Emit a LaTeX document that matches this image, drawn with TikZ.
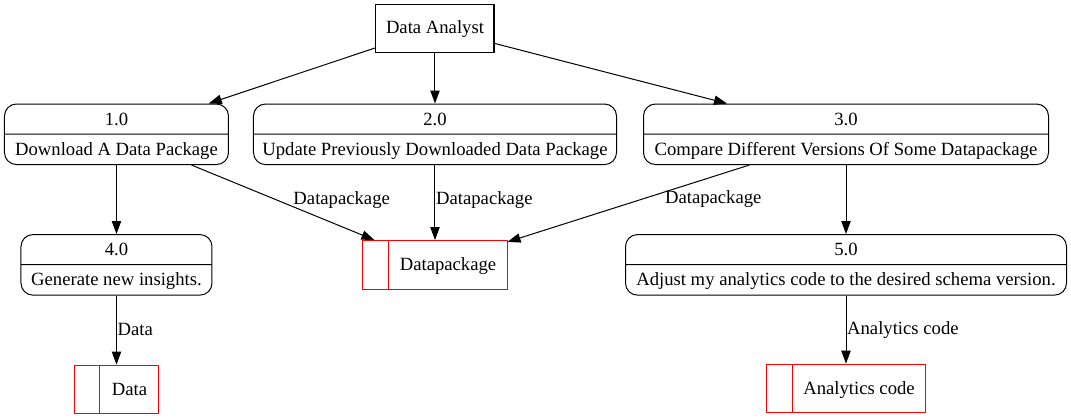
\documentclass[tikz,border=0pt]{standalone}
\usepackage{fontspec}
\setmainfont{Liberation Serif}
\usepackage{tikz}
\usetikzlibrary{shapes,arrows.meta,positioning,calc}
\newcommand{\recstrut}{\rule[-2.6pt]{0pt}{14.25pt}}
\newcommand{\proctext}[3]{\recstrut\makebox[#1]{#2}\nodepart{two}\recstrut\makebox[#1]{#3}}
\tikzset{
	procbox/.style={rectangle split, rectangle split parts=2, draw=black, line width=0.75pt,
		rounded corners=9pt, inner xsep=0pt, inner ysep=3.75pt},
	actorbox/.style={rectangle, draw=black, line width=0.75pt, minimum width=88.5pt,
		minimum height=36pt, inner sep=0pt},
	storebox/.style={rectangle, draw=red, line width=0.75pt, minimum height=36.5pt, inner sep=0pt},
	storeline/.style={draw=red, line width=0.75pt},
	flowarr/.style={-{Triangle[length=9.75pt, width=7pt]}, line width=0.75pt},
	flowlbl/.style={anchor=west, inner sep=0pt}
}

\begin{document}
\fontsize{14pt}{17pt}\selectfont
\begin{tikzpicture}[node distance=0.6cm]
			\useasboundingbox (-326.25pt,21pt) rectangle (477pt,-293.25pt);
			\node[actorbox] (analyst) {\recstrut Data Analyst};
			\node[procbox, below=38.25pt of analyst] (p2) {\proctext{272.25pt}{2.0}{Update Previously Downloaded Data Package}};
			\node[procbox, left=18pt of p2] (p1) {\proctext{168pt}{1.0}{Download A Data Package}};
			\node[procbox, right=19.5pt of p2] (p3) {\proctext{303.75pt}{3.0}{Compare Different Versions Of Some Datapackage}};
			\node[procbox, below=51.75pt of p1] (p4) {\proctext{143.25pt}{4.0}{Generate new insights.}};
			\node[procbox, below=51.75pt of p3] (p5) {\proctext{330.75pt}{5.0}{Adjust my analytics code to the desired schema version.}};
			\node[storebox, below=56.25pt of p2] (dp) {\recstrut\hspace*{19.5pt}\makebox[88.5pt]{Datapackage}};
			\node[storebox, below=51.75pt of p4] (data) {\recstrut\hspace*{19.5pt}\makebox[43.5pt]{Data}};
			\node[storebox, below=51pt of p5] (code) {\recstrut\hspace*{19.5pt}\makebox[99.75pt]{Analytics code}};
			\draw[storeline] ([xshift=19.5pt]dp.north west)--([xshift=19.5pt]dp.south west);
			\draw[storeline] ([xshift=19.5pt]data.north west)--([xshift=19.5pt]data.south west);
			\draw[storeline] ([xshift=19.5pt]code.north west)--([xshift=19.5pt]code.south west);
			\draw[flowarr] (analyst)--(p1);
			\draw[flowarr] (analyst)--(p2);
			\draw[flowarr] (analyst)--(p3);
			\draw[flowarr] (p1)--(p4);
			\draw[flowarr] (p1)--(dp) node[flowlbl, pos=0.5, xshift=7.5pt, yshift=2pt] {Datapackage};
			\draw[flowarr] (p2)--(dp) node[flowlbl, pos=0.5, xshift=0.5pt, yshift=2pt] {Datapackage};
			\draw[flowarr] (p3)--(dp) node[flowlbl, pos=0.4, xshift=9pt, yshift=-2.5pt] {Datapackage};
			\draw[flowarr] (p3)--(p5);
			\draw[flowarr] (p4)--(data) node[flowlbl, pos=0.5, xshift=0.5pt, yshift=0.5pt] {Data};
			\draw[flowarr] (p5)--(code) node[flowlbl, pos=0.5, xshift=0.5pt, yshift=0pt] {Analytics code};
		\end{tikzpicture}
\end{document}
